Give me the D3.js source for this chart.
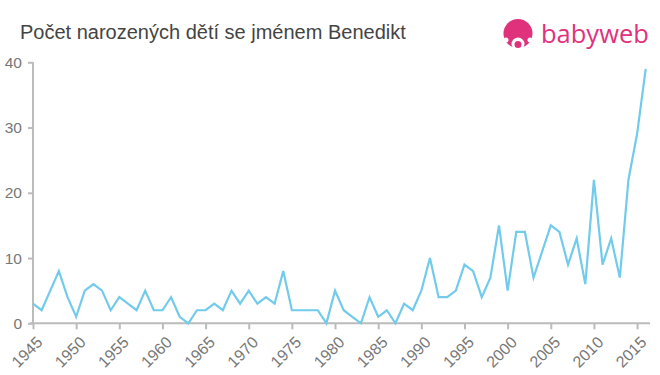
<!DOCTYPE html>
<html><head><meta charset="utf-8">
<script src="https://cdn.jsdelivr.net/npm/d3@7"></script>
<style>body{margin:0;background:#fff;}svg{display:block;font-family:"Liberation Sans",Arial,sans-serif;}</style>
</head><body>
<svg id="c" width="660" height="375"></svg>
<script>
const years = d3.range(1945, 2017);
const counts = [3,2,5,8,4,1,5,6,5,2,4,3,2,5,2,2,4,1,0,2,2,3,2,5,3,5,3,4,3,8,2,2,2,2,0,5,2,1,0,4,1,2,0,3,2,5,10,4,4,5,9,8,4,7,15,5,14,14,7,11,15,14,9,13,6,22,9,13,7,22,29,39];
const yTicks = [0,10,20,30,40];
const xTicks = d3.range(1945, 2016, 5);
const title = "Počet narozených dětí se jménem Benedikt";

const svg = d3.select("#c");
const x = d3.scaleLinear().domain([1945, 2016]).range([33, 645.7]);
const y = d3.scaleLinear().domain([0, 40]).range([323.3, 62.3]);

svg.append("text").attr("x", 20).attr("y", 39).attr("font-size", 20).attr("fill", "#444").text(title);

// y axis
const ya = svg.append("g").attr("transform", "translate(33,0)")
  .call(d3.axisLeft(y).tickValues(yTicks).tickSize(5).tickPadding(6));
ya.select(".domain").attr("stroke", "#bbb").attr("stroke-width", 2).attr("d", `M0,${y(40)}V${y(0)}`);
ya.selectAll(".tick line").attr("stroke", "#bbb").attr("stroke-width", 2);
ya.selectAll(".tick text").attr("font-size", 15.5).attr("fill", "#777").attr("font-family", "Liberation Sans, Arial, sans-serif");

// x axis
const xa = svg.append("g").attr("transform", `translate(0,${y(0)})`)
  .call(d3.axisBottom(x).tickValues(xTicks).tickFormat(d3.format("d")).tickSize(6).tickPadding(4));
xa.select(".domain").attr("stroke", "#bbb").attr("stroke-width", 2).attr("d", `M30,0H650`);
xa.selectAll(".tick line").attr("stroke", "#bbb").attr("stroke-width", 2);
xa.selectAll(".tick text").attr("font-size", 16).attr("fill", "#777")
  .attr("font-family", "Liberation Sans, Arial, sans-serif")
  .attr("text-anchor", "end").attr("dy", "0.35em")
  .attr("transform", "translate(-1,9) rotate(-45)");

// line
const line = d3.line().x((d, i) => x(years[i])).y(d => y(d));
svg.append("path").datum(counts).attr("d", line).attr("fill", "none")
  .attr("stroke", "#72cbea").attr("stroke-width", 2.2).attr("stroke-linejoin", "miter");

// logo
const logo = svg.append("g");
logo.append("circle").attr("cx", 518).attr("cy", 33.5).attr("r", 14.5).attr("fill", "#e0317d");
logo.append("circle").attr("cx", 518).attr("cy", 44).attr("r", 6.5).attr("fill", "#fff");
logo.append("circle").attr("cx", 518).attr("cy", 44.5).attr("r", 3.5).attr("fill", "#e0317d");
logo.append("circle").attr("cx", 506).attr("cy", 40).attr("r", 2.5).attr("fill", "#fff");
logo.append("circle").attr("cx", 530).attr("cy", 40).attr("r", 2.5).attr("fill", "#fff");
logo.append("text").attr("x", 541).attr("y", 43).attr("font-size", 25.5).attr("fill", "#e0317d")
  .attr("font-family", "Open Sans, Liberation Sans, sans-serif").text("babyweb");
</script>
</body></html>
